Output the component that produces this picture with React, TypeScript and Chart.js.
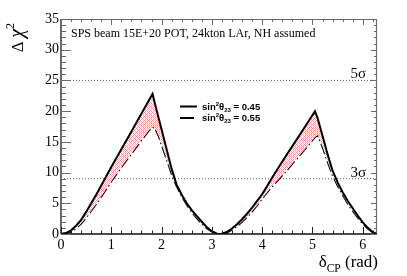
import React, { useEffect, useRef } from 'react';
import { Chart, registerables } from 'chart.js';

Chart.register(...registerables);

// sin^2(theta23) = 0.45 (solid)
const X_SOLID = [0, 0.1, 0.2, 0.3, 0.4, 0.5, 0.6, 0.7, 0.8, 1.0, 1.2, 1.4, 1.6, 1.82, 1.9, 2.0, 2.1, 2.2, 2.3, 2.4, 2.5, 2.6, 2.7, 2.8, 2.9, 3.0, 3.1, 3.1416,
  3.2, 3.3, 3.4, 3.5, 3.6, 3.7, 3.8, 3.9, 4.0, 4.1, 4.2, 4.4, 4.6, 4.8, 5.05, 5.1, 5.2, 5.3, 5.4, 5.5, 5.6, 5.7, 5.8, 5.9, 6.0, 6.1, 6.2, 6.2832];
const Y_SOLID = [0, 0.15, 0.6, 1.35, 2.3, 3.6, 5.0, 6.4, 7.9, 10.9, 13.8, 16.7, 19.6, 22.8, 20.2, 17.0, 13.8, 10.6, 8.0, 6.4, 5.0, 3.9, 2.9, 2.0, 1.1, 0.45, 0.05, 0,
  0.05, 0.35, 0.9, 1.6, 2.4, 3.3, 4.3, 5.4, 6.5, 7.8, 9.2, 11.8, 14.3, 16.8, 20.0, 18.9, 16.0, 13.0, 10.3, 8.4, 6.8, 5.4, 4.2, 3.0, 1.9, 1.0, 0.3, 0];

// sin^2(theta23) = 0.55 (dashed)
const X_DASH = [0, 0.1, 0.2, 0.3, 0.4, 0.5, 0.6, 0.7, 0.8, 1.0, 1.2, 1.4, 1.6, 1.75, 1.82, 1.87, 1.95, 2.0, 2.1, 2.2, 2.3, 2.4, 2.5, 2.6, 2.7, 2.8, 2.9, 3.0, 3.1, 3.1416,
  3.2, 3.3, 3.4, 3.5, 3.6, 3.7, 3.8, 3.9, 4.0, 4.1, 4.2, 4.35, 4.5, 4.7, 4.9, 5.05, 5.11, 5.2, 5.3, 5.4, 5.5, 5.6, 5.7, 5.8, 5.9, 6.0, 6.1, 6.2, 6.2832];
const Y_DASH = [0, 0.1, 0.4, 0.95, 1.7, 2.7, 3.8, 4.9, 6.1, 8.6, 10.9, 13.1, 15.3, 16.9, 17.4, 17.3, 15.8, 14.6, 12.2, 9.8, 7.8, 6.2, 4.8, 3.6, 2.6, 1.7, 0.95, 0.4, 0.04, 0,
  0.04, 0.25, 0.7, 1.3, 2.0, 2.8, 3.7, 4.7, 5.8, 6.8, 7.8, 9.1, 10.5, 12.4, 14.3, 15.8, 16.1, 14.2, 11.8, 9.6, 7.9, 6.4, 5.0, 3.8, 2.7, 1.7, 0.9, 0.25, 0];

const X_TICKS = [0, 1, 2, 3, 4, 5, 6];
const Y_TICKS = [0, 5, 10, 15, 20, 25, 30, 35];
const X_MAX = 2 * Math.PI;
const Y_MAX = 35;
const SIGMA_LEVELS = [25, 9];
const SIGMA_LABELS = ['5σ', '3σ'];
const LEGEND_VALUES = ['0.45', '0.55'];
const INFO_TEXT = 'SPS beam 15E+20 POT, 24kton LAr, NH assumed';

const SERIF = '"Liberation Serif", "Times New Roman", serif';
const SANS = '"Liberation Sans", Arial, sans-serif';
const DASH = [11, 3, 1.5, 3];

function makeHatch(): CanvasPattern | string {
  const c = document.createElement('canvas');
  c.width = 4;
  c.height = 4;
  const g = c.getContext('2d');
  if (!g) return 'rgba(255,120,120,0.5)';
  g.fillStyle = '#ffffff';
  g.fillRect(0, 0, 4, 4);
  g.fillStyle = 'rgba(255,80,80,0.6)';
  for (let x = 0; x < 4; x++) {
    for (let y = 0; y < 4; y++) {
      if ((x + y) % 4 === 0 || (x - y + 4) % 4 === 0) g.fillRect(x, y, 1, 1);
    }
  }
  g.fillStyle = 'rgba(255,140,140,0.35)';
  g.fillRect(0, 2, 1, 1);
  g.fillRect(2, 0, 1, 1);
  return g.createPattern(c, 'repeat') || 'rgba(255,120,120,0.5)';
}

const framePlugin = {
  id: 'rootFrame',
  afterDraw(chart: any) {
    const { ctx, chartArea } = chart;
    const { left, right, top, bottom } = chartArea;
    const xs = chart.scales.x;
    const ys = chart.scales.y;
    ctx.save();

    // frame
    ctx.lineCap = 'butt';
    ctx.strokeStyle = '#6a6a6a';
    ctx.lineWidth = 2;
    ctx.beginPath();
    ctx.moveTo(left, bottom);
    ctx.lineTo(left, top);
    ctx.stroke();
    ctx.lineWidth = 1.2;
    ctx.beginPath();
    ctx.moveTo(left, top + 0.5);
    ctx.lineTo(right, top + 0.5);
    ctx.moveTo(right - 0.5, top);
    ctx.lineTo(right - 0.5, bottom);
    ctx.stroke();
    ctx.strokeStyle = '#111';
    ctx.lineWidth = 1.5;
    ctx.beginPath();
    ctx.moveTo(left, bottom);
    ctx.lineTo(right, bottom);
    ctx.stroke();

    // y ticks
    ctx.lineWidth = 1;
    ctx.strokeStyle = '#6a6a6a';
    ctx.beginPath();
    for (let v = 0; v <= Y_MAX; v += 1) {
      const py = Math.round(ys.getPixelForValue(v)) + 0.5;
      const major = v % 5 === 0;
      ctx.moveTo(left, py);
      ctx.lineTo(left + (major ? 10 : 5), py);
      ctx.moveTo(right, py);
      ctx.lineTo(right - (major ? 6 : 3), py);
    }
    ctx.stroke();

    // x ticks
    ctx.strokeStyle = '#222';
    ctx.beginPath();
    for (let i = 0; i * 0.2 <= X_MAX + 1e-6; i++) {
      const v = i * 0.2;
      const px = Math.round(xs.getPixelForValue(v)) + 0.5;
      const major = i % 5 === 0;
      ctx.moveTo(px, bottom);
      ctx.lineTo(px, bottom - (major ? 7 : 3.5));
    }
    ctx.stroke();
    ctx.strokeStyle = '#6a6a6a';
    ctx.beginPath();
    for (let i = 0; i * 0.2 <= X_MAX + 1e-6; i++) {
      const v = i * 0.2;
      const px = Math.round(xs.getPixelForValue(v)) + 0.5;
      const major = i % 5 === 0;
      ctx.moveTo(px, top);
      ctx.lineTo(px, top + (major ? 6 : 3));
    }
    ctx.stroke();

    ctx.fillStyle = '#000';
    // info text
    ctx.font = `12px ${SERIF}`;
    ctx.textAlign = 'left';
    ctx.textBaseline = 'alphabetic';
    ctx.fillText(INFO_TEXT, left + 10, top + 18);

    // sigma labels
    ctx.font = `15px ${SERIF}`;
    ctx.textAlign = 'right';
    SIGMA_LEVELS.forEach((lv, i) => {
      ctx.fillText(SIGMA_LABELS[i], right - 11, ys.getPixelForValue(lv) - 2);
    });

    // legend
    const lx = left + 119;
    const rows = [top + 87.5, top + 99];
    rows.forEach((ry, i) => {
      ctx.strokeStyle = '#000';
      ctx.lineWidth = 2;
      ctx.setLineDash(i === 0 ? [] : [14, 3, 1.5, 3]);
      ctx.beginPath();
      ctx.moveTo(lx, ry);
      ctx.lineTo(lx + 17, ry);
      ctx.stroke();
      ctx.setLineDash([]);
      let tx = lx + 22;
      const base = ry + 3.2;
      ctx.textAlign = 'left';
      ctx.font = `bold 9.5px ${SANS}`;
      ctx.fillText('sin', tx, base);
      tx += ctx.measureText('sin').width;
      ctx.font = `bold 6px ${SANS}`;
      ctx.fillText('2', tx, base - 4);
      tx += ctx.measureText('2').width;
      ctx.font = `bold 9.5px ${SANS}`;
      ctx.fillText('θ', tx, base);
      tx += ctx.measureText('θ').width;
      ctx.font = `bold 6px ${SANS}`;
      ctx.fillText('23', tx, base + 2);
      tx += ctx.measureText('23').width;
      ctx.font = `bold 9.5px ${SANS}`;
      ctx.fillText(' = ' + LEGEND_VALUES[i], tx, base);
    });

    // x axis title: δ_CP (rad)
    ctx.textAlign = 'left';
    ctx.font = `17px ${SERIF}`;
    const wRad = ctx.measureText(' (rad)').width;
    const wDelta = ctx.measureText('δ').width;
    ctx.font = `11.5px ${SERIF}`;
    const wCP = ctx.measureText('CP').width;
    let xx = right + 1 - wRad - wCP - wDelta;
    ctx.font = `17px ${SERIF}`;
    ctx.fillText('δ', xx, 267);
    xx += wDelta;
    ctx.font = `11.5px ${SERIF}`;
    ctx.fillText('CP', xx, 271.5);
    xx += wCP;
    ctx.font = `17px ${SERIF}`;
    ctx.fillText(' (rad)', xx, 267);

    // y axis title: Δ χ²
    ctx.translate(22.5, 52);
    ctx.rotate(-Math.PI / 2);
    ctx.font = `16px ${SERIF}`;
    ctx.fillText('Δ', 0, 0);
    let yy = ctx.measureText('Δ ').width;
    ctx.font = `italic 20px ${SERIF}`;
    ctx.fillText('χ', yy, 0);
    yy += ctx.measureText('χ').width;
    ctx.font = `12px ${SERIF}`;
    ctx.fillText('2', yy, -9);

    ctx.restore();
  },
};

export default function App() {
  const ref = useRef<HTMLCanvasElement | null>(null);

  useEffect(() => {
    const canvas = ref.current;
    if (!canvas) return;
    const hatch = makeHatch();
    const chart = new Chart(canvas, {
      type: 'line',
      data: {
        datasets: [
          {
            label: 'sin2theta23 = 0.45',
            data: X_SOLID.map((x, i) => ({ x, y: Y_SOLID[i] })),
            borderColor: '#000',
            borderWidth: 2,
            pointRadius: 0,
            tension: 0,
            fill: '+1',
            backgroundColor: hatch as any,
            order: 1,
          },
          {
            label: 'sin2theta23 = 0.55',
            data: X_DASH.map((x, i) => ({ x, y: Y_DASH[i] })),
            borderColor: '#000',
            borderWidth: 2,
            borderDash: DASH,
            pointRadius: 0,
            tension: 0,
            fill: false,
            order: 2,
          },
          ...SIGMA_LEVELS.map((lv) => ({
            label: `level ${lv}`,
            data: [{ x: 0, y: lv }, { x: X_MAX, y: lv }],
            borderColor: '#555',
            borderWidth: 1,
            borderDash: [1, 2],
            pointRadius: 0,
            fill: false,
            order: 5,
          })),
        ],
      },
      options: {
        animation: false,
        responsive: false,
        maintainAspectRatio: false,
        events: [],
        layout: { padding: { top: 19, right: 30, left: 0, bottom: 0 } },
        plugins: { legend: { display: false }, tooltip: { enabled: false } },
        scales: {
          x: {
            type: 'linear',
            min: 0,
            max: X_MAX,
            grid: { display: false, drawTicks: false },
            border: { display: false },
            ticks: {
              color: '#000',
              font: { family: SERIF, size: 14 },
              padding: 3,
              maxRotation: 0,
              autoSkip: false,
            },
            afterBuildTicks: (s: any) => {
              s.ticks = X_TICKS.map((v) => ({ value: v }));
            },
            afterFit: (s: any) => {
              s.height = 42;
            },
          },
          y: {
            type: 'linear',
            min: 0,
            max: Y_MAX,
            grid: { display: false, drawTicks: false },
            border: { display: false },
            ticks: {
              color: '#000',
              font: { family: SERIF, size: 14 },
              padding: 2,
              autoSkip: false,
            },
            afterBuildTicks: (s: any) => {
              s.ticks = Y_TICKS.map((v) => ({ value: v }));
            },
            afterFit: (s: any) => {
              s.width = 61;
            },
          },
        },
      },
      plugins: [framePlugin],
    });
    return () => chart.destroy();
  }, []);

  return (
    <div style={{ position: 'fixed', left: 0, top: 0, width: 407, height: 276, background: '#fff' }}>
      <canvas ref={ref} width={407} height={276} style={{ width: 407, height: 276, display: 'block' }} />
    </div>
  );
}
